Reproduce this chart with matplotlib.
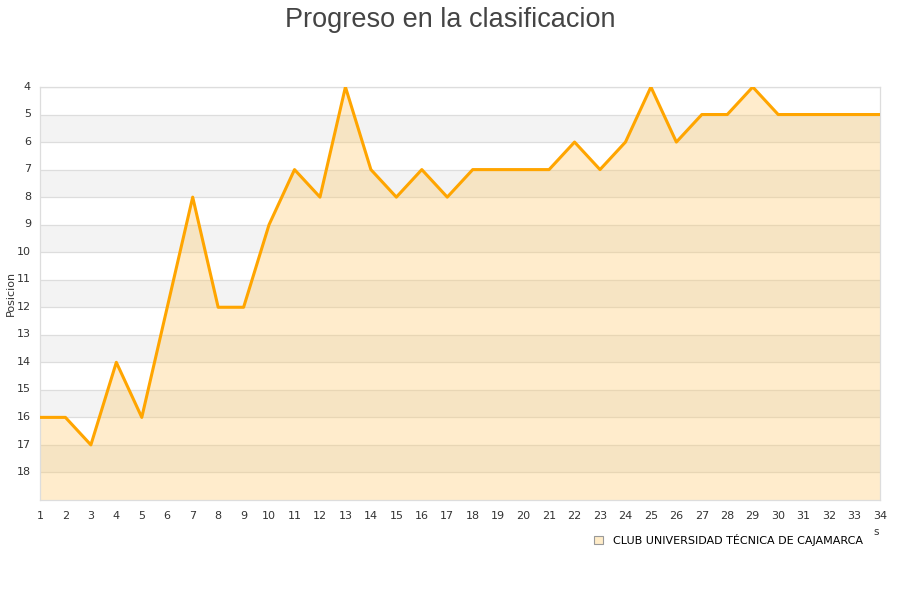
import matplotlib
matplotlib.use("Agg")
import matplotlib.pyplot as plt
from matplotlib.patches import Patch
import matplotlib.transforms as mtransforms

# jornadas y posicion del equipo
jornadas = list(range(1, 35))
posicion = [16, 16, 17, 14, 16, 12, 8, 12, 12, 9,
            7, 8, 4, 7, 8, 7, 8, 7, 7, 7,
            7, 6, 7, 6, 4, 6, 5, 5, 4, 5,
            5, 5, 5, 5]
equipo = "CLUB UNIVERSIDAD TÉCNICA DE CAJAMARCA"
y_ticks = list(range(4, 19))

line_color = "#FFA500"
fill_color = "#FFC864"

fig = plt.figure(figsize=(9, 6), dpi=100)
ax = fig.add_axes([0.0444, 0.1667, 0.9334, 0.6883])

ax.set_xlim(1, 34)
ax.set_ylim(19, 4)

# bandas alternas y rejilla
for y0 in range(5, 19, 2):
    ax.axhspan(y0, y0 + 1, color="#f3f3f3", zorder=0, linewidth=0)
for y in y_ticks:
    ax.axhline(y, color="#dddddd", linewidth=0.9, zorder=1)

# area bajo la linea
ax.fill_between(jornadas, posicion, 19, color=fill_color, alpha=0.33,
                zorder=2, linewidth=0)
ax.plot(jornadas, posicion, color=line_color, linewidth=2.2, zorder=3)

ax.set_xticks(jornadas)
ax.set_yticks(y_ticks)
ax.tick_params(axis="both", length=0, labelsize=8, colors="#333333")
ax.tick_params(axis="x", pad=8)
ax.tick_params(axis="y", pad=6.5)
offset = mtransforms.ScaledTranslation(0, 1 / 72, fig.dpi_scale_trans)
for lbl in ax.get_yticklabels():
    lbl.set_transform(lbl.get_transform() + offset)
for s in ax.spines.values():
    s.set_color("#dddddd")
    s.set_linewidth(0.9)

ax.set_ylabel("Posicion", fontsize=8, color="#333333")
ax.yaxis.set_label_coords(-0.029, 0.5)

fig.text(0.5, 0.989, "Progreso en la clasificacion", ha="center", va="top",
         fontsize=19.5, color="#444444", family="Liberation Sans")

fig.text(0.973, 0.108, "s", fontsize=7.5, color="#333333", ha="center")

handle = Patch(facecolor="#FFECC8", edgecolor="#999999", linewidth=0.8)
fig.legend([handle], [equipo], loc="center right", bbox_to_anchor=(0.97, 0.1),
           frameon=False, fontsize=8, handlelength=0.8, handleheight=0.8,
           handletextpad=0.9)

fig.savefig("out.png", dpi=100)
